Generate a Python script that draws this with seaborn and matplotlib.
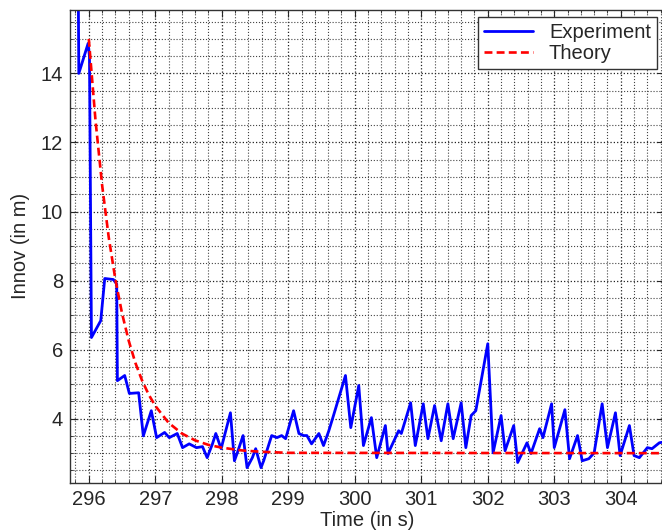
import numpy as np
import pandas as pd
import matplotlib
matplotlib.use("Agg")
import matplotlib.pyplot as plt
from matplotlib.ticker import MultipleLocator
import seaborn as sns

# experiment samples

exp_time = [295.84, 295.85, 295.99, 296.01, 296.04, 296.18, 296.24, 296.37, 296.42, 296.43,
            296.54, 296.61, 296.75, 296.82, 296.94, 297.02, 297.14, 297.21, 297.33, 297.41,
            297.51, 297.62, 297.71, 297.78, 297.86, 297.91, 297.99, 298.13, 298.19, 298.23,
            298.32, 298.38, 298.46, 298.51, 298.59, 298.63, 298.75, 298.83, 298.90, 298.96,
            299.08, 299.16, 299.23, 299.28, 299.35, 299.46, 299.53, 299.61, 299.68, 299.86,
            299.94, 300.06, 300.13, 300.25, 300.33, 300.46, 300.50, 300.66, 300.70, 300.84,
            300.91, 301.03, 301.10, 301.20, 301.30, 301.40, 301.48, 301.60, 301.67, 301.75,
            301.82, 302.00, 302.08, 302.20, 302.26, 302.39, 302.45, 302.59, 302.65, 302.78,
            302.83, 302.96, 303.00, 303.16, 303.23, 303.35, 303.42, 303.52, 303.60, 303.72,
            303.80, 303.92, 303.99, 304.13, 304.20, 304.28, 304.40, 304.47, 304.58, 304.70]
exp_innov = [17.0, 14.0, 14.87, 14.5, 6.35, 6.84, 8.06, 8.03, 7.9, 5.1,
             5.25, 4.73, 4.75, 3.5, 4.23, 3.45, 3.6, 3.45, 3.57, 3.16,
             3.27, 3.16, 3.19, 2.87, 3.27, 3.57, 3.13, 4.17, 2.78, 2.99,
             3.51, 2.58, 2.87, 3.13, 2.58, 2.78, 3.51, 3.45, 3.51, 3.42,
             4.23, 3.57, 3.51, 3.51, 3.27, 3.57, 3.22, 3.65, 4.09, 5.25,
             3.74, 4.96, 3.22, 4.03, 2.87, 3.8, 2.99, 3.65, 3.57, 4.46,
             3.22, 4.43, 3.42, 4.38, 3.36, 4.43, 3.42, 4.46, 3.16, 4.09,
             4.23, 6.17, 3.01, 4.09, 3.07, 3.8, 2.73, 3.3, 2.99, 3.71,
             3.45, 4.43, 3.16, 4.26, 2.84, 3.51, 2.78, 2.84, 3.01, 4.43,
             3.16, 4.17, 2.93, 3.8, 2.93, 2.87, 3.16, 3.13, 3.3, 3.35]

# theory curve

theory_time = [296.0, 296.1, 296.2, 296.3, 296.4, 296.5, 296.6, 296.7, 296.8, 296.9,
               297.0, 297.2, 297.4, 297.6, 297.8, 298.0, 298.3, 298.6, 299.0, 304.7]
theory_innov = [15.0, 12.66, 10.77, 9.25, 8.03, 7.05, 6.26, 5.62, 5.11, 4.70,
                4.37, 3.88, 3.57, 3.37, 3.24, 3.16, 3.08, 3.04, 3.01, 3.0]

sns.set_style("ticks")
plt.rcParams["font.family"] = ["Liberation Sans", "DejaVu Sans"]

fig = plt.figure(figsize=(6.62, 5.31), dpi=100)
ax = fig.add_axes([0.106, 0.09, 0.897, 0.892])

exp_df = pd.DataFrame({"t": exp_time, "v": exp_innov})
th_df = pd.DataFrame({"t": theory_time, "v": theory_innov})

sns.lineplot(data=exp_df, x="t", y="v", ax=ax, color="#0000ff", linewidth=2.0,
             estimator=None, sort=False, label="Experiment")
sns.lineplot(data=th_df, x="t", y="v", ax=ax, color="#ff0000", linewidth=1.9,
             dashes=False, estimator=None, sort=False, label="Theory")
ax.lines[1].set_dashes((3, 1.6))

ax.set_xlim(295.72, 304.65)
ax.set_ylim(2.13, 15.85)
ax.xaxis.set_major_locator(MultipleLocator(1))
ax.xaxis.set_minor_locator(MultipleLocator(0.2))
ax.yaxis.set_major_locator(MultipleLocator(2))
ax.yaxis.set_minor_locator(MultipleLocator(0.5))

ax.grid(which="major", color="#222222", linestyle=":", linewidth=0.9)
ax.grid(which="minor", color="#444444", linestyle=":", linewidth=0.8)
ax.tick_params(which="both", direction="in", top=True, right=True, labelsize=14.5)
ax.tick_params(which="major", length=5, pad=5)
ax.tick_params(which="minor", length=2.5)
for s in ax.spines.values():
    s.set_color("#333333")
    s.set_linewidth(1.0)

ax.set_xlabel("Time (in s)", fontsize=14.5, labelpad=1)
ax.set_ylabel("Innov (in m)", fontsize=14.5, labelpad=8)

leg = ax.legend(loc="upper right", fontsize=14.5, frameon=True, fancybox=False,
                edgecolor="#333333", framealpha=1, handlelength=2.4,
                borderaxespad=0.35, labelspacing=0.1, borderpad=0.3)
leg.get_frame().set_linewidth(1.0)
leg.get_lines()[1].set_dashes((3, 1.6))

fig.savefig("out.png", dpi=100)
